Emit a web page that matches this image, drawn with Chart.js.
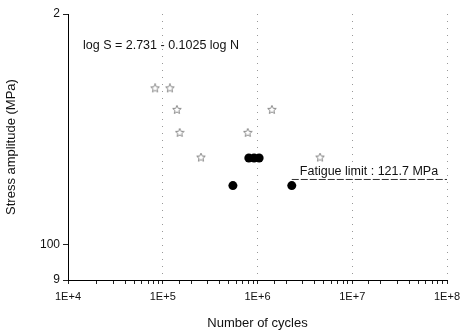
<!DOCTYPE html>
<html>
<head>
<meta charset="utf-8">
<script src="https://cdn.jsdelivr.net/npm/chart.js@4"></script>
<style>
  html, body { margin: 0; padding: 0; background: #fff; }
  #wrap { width: 460px; height: 335px; }
</style>
</head>
<body>
<div id="wrap"><canvas id="sn-chart" width="460" height="335"></canvas></div>
<script>
// S-N data
const starCycles = [8.3e4, 1.19e5, 1.41e5, 1.51e5, 2.53e5, 7.9e5, 1.42e6, 4.57e6];
const starStress = [160, 160, 150, 140, 130, 140, 150, 130];
const dotCycles = [5.5e5, 8.1e5, 9.2e5, 1.04e6, 2.3e6];
const dotStress = [119.5, 129.8, 129.8, 129.8, 119.5];
const limitCycles = [2.3e6, 1e8];
const limitStress = [121.7, 121.7];
const yTickValues = [90, 100, 200];
const yTickLabels = ['9', '100', '2'];
const equationText = 'log S = 2.731 - 0.1025 log N';
const limitText = 'Fatigue limit : 121.7 MPa';

const FONT = '"Liberation Sans", Arial, sans-serif';

function starImage(size, color) {
  const c = document.createElement('canvas');
  c.width = size; c.height = size;
  const g = c.getContext('2d');
  const cx = size / 2, cy = size / 2, ro = size / 2 - 0.5, ri = ro * 0.45;
  g.beginPath();
  for (let i = 0; i < 10; i++) {
    const r = i % 2 ? ri : ro;
    const a = -Math.PI / 2 + i * Math.PI / 5;
    g.lineTo(cx + r * Math.cos(a), cy + r * Math.sin(a));
  }
  g.closePath();
  g.strokeStyle = color;
  g.lineWidth = 1;
  g.stroke();
  return c;
}

const isDecade = v => Math.abs(Math.log10(v) - Math.round(Math.log10(v))) < 1e-9;

const textPlugin = {
  id: 'notes',
  afterDatasetsDraw(chart) {
    const { ctx, scales: { x, y } } = chart;
    ctx.save();
    ctx.fillStyle = '#111';
    ctx.font = '12.5px ' + FONT;
    ctx.textBaseline = 'middle';
    ctx.fillText(equationText, x.getPixelForValue(1.44e4), y.getPixelForValue(181.7));
    ctx.fillText(limitText, x.getPixelForValue(2.8e6), y.getPixelForValue(124.6));
    ctx.restore();
  }
};

new Chart(document.getElementById('sn-chart'), {
  type: 'scatter',
  data: {
    datasets: [
      {
        label: 'limit',
        type: 'line',
        data: limitCycles.map((n, i) => ({ x: n, y: limitStress[i] })),
        borderColor: '#333',
        borderWidth: 1,
        borderDash: [7, 2],
        pointRadius: 0
      },
      {
        label: 'runout',
        data: starCycles.map((n, i) => ({ x: n, y: starStress[i] })),
        pointStyle: starImage(10, '#8a8a8a'),
        pointRadius: 5
      },
      {
        label: 'failure',
        data: dotCycles.map((n, i) => ({ x: n, y: dotStress[i] })),
        pointStyle: 'circle',
        pointRadius: 4.5,
        backgroundColor: '#000',
        borderColor: '#000',
        borderWidth: 0
      }
    ]
  },
  options: {
    responsive: false,
    animation: false,
    layout: { padding: { top: 14, right: 0, left: 0, bottom: 0 } },
    plugins: { legend: { display: false }, tooltip: { enabled: false } },
    scales: {
      x: {
        type: 'logarithmic',
        min: 1e4,
        max: 1e8,
        afterFit(s) { s.height = 55; s.paddingRight = 13; },
        border: { display: true, color: '#000', width: 1, dash: [1, 6] },
        grid: {
          color: c => (c.tick && isDecade(c.tick.value) && c.index > 0) ? '#999' : 'rgba(0,0,0,0)',
          tickColor: '#222',
          tickLength: 4,
          drawTicks: true
        },
        ticks: {
          autoSkip: false,
          maxRotation: 0,
          color: '#111',
          font: { family: FONT, size: 11 },
          padding: 6,
          callback: v => isDecade(v) ? '1E+' + Math.round(Math.log10(v)) : ''
        },
        title: {
          display: true,
          text: 'Number of cycles',
          color: '#111',
          font: { family: FONT, size: 13 },
          padding: { top: 8 }
        }
      },
      y: {
        type: 'logarithmic',
        min: 90,
        max: 200,
        afterFit(s) { s.width = 68; },
        afterBuildTicks(s) { s.ticks = yTickValues.map(v => ({ value: v })); },
        border: { display: true, color: '#000', width: 1 },
        grid: { drawOnChartArea: false, tickColor: '#222', tickLength: 5 },
        ticks: {
          color: '#111',
          font: { family: FONT, size: 12 },
          padding: 3,
          callback: v => yTickLabels[yTickValues.indexOf(v)] ?? ''
        },
        title: {
          display: true,
          text: 'Stress amplitude (MPa)',
          color: '#111',
          font: { family: FONT, size: 13 },
          padding: { bottom: 14 }
        }
      }
    }
  },
  plugins: [textPlugin]
});
</script>
</body>
</html>
